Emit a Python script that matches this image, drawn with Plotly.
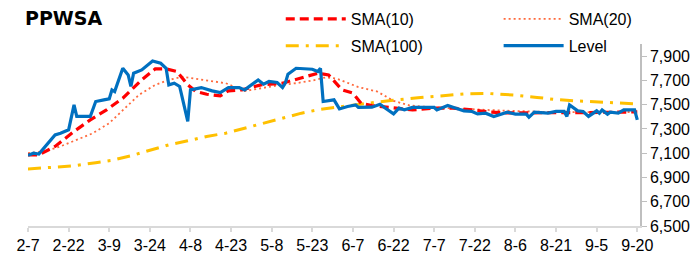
import plotly.graph_objects as go

YEAR = 2019

level_md = ["02-07","02-09","02-11","02-14","02-17","02-19","02-22","02-24","02-25",
            "03-02","03-04","03-07","03-09","03-10","03-11","03-14","03-16","03-17","03-18","03-21","03-25","03-28","03-30","03-31",
            "04-02","04-04","04-05","04-07","04-08","04-12","04-16","04-19","04-22","04-26","04-28",
            "05-03","05-05","05-07","05-10","05-12","05-13","05-14","05-17","05-23","05-25","05-26","05-27","05-31",
            "06-02","06-05","06-08","06-09","06-14","06-17","06-19","06-22","06-24","06-26","06-29",
            "07-07","07-08","07-12","07-15","07-18","07-21","07-23","07-26","07-28","07-29",
            "08-03","08-06","08-10","08-11","08-13","08-18","08-21","08-24","08-25","08-26","08-29","08-31",
            "09-02","09-05","09-06","09-07","09-09","09-10","09-13","09-15","09-19","09-20"]
level_val = [7082,7100,7093,7169,7251,7265,7293,7498,7403,
             7403,7526,7540,7548,7622,7608,7800,7745,7650,7759,7786,7860,7841,7800,7663,
             7677,7650,7553,7362,7622,7641,7614,7600,7641,7641,7622,
             7704,7669,7691,7683,7641,7677,7751,7800,7792,7773,7800,7526,7540,
             7465,7485,7498,7477,7479,7504,7471,7424,7471,7457,7477,
             7477,7457,7493,7471,7449,7444,7424,7430,7416,7403,
             7438,7422,7422,7397,7438,7430,7444,7444,7403,7498,7449,7444,
             7403,7449,7430,7457,7422,7438,7430,7457,7457,7375]

sma10_md = ["02-07","02-11","02-17","02-24","03-02","03-08","03-14","03-18","03-21","03-26","03-30",
            "04-03","04-07","04-10","04-14","04-19","04-22","04-27","05-04","05-12","05-18","05-25","05-29",
            "06-03","06-07","06-10","06-14","06-22","06-29","07-07","07-14","07-21","07-28",
            "08-03","08-18","09-02","09-20"]
sma10_val = [7087,7087,7156,7279,7375,7457,7553,7636,7704,7795,7795,
             7773,7663,7608,7586,7572,7614,7622,7663,7677,7718,7759,7745,
             7622,7595,7512,7493,7471,7457,7471,7471,7457,7438,
             7432,7432,7435,7440]

sma20_md = ["02-07","02-13","02-19","02-25","03-03","03-09","03-15","03-20","03-26","03-31",
            "04-05","04-10","04-16","04-21","04-28","05-04","05-10","05-17","05-23","05-28",
            "06-01","06-09","06-16","06-22","06-28","07-07","07-16","07-26","08-03","08-18","09-02","09-20"]
sma20_val = [7100,7115,7156,7210,7265,7348,7471,7581,7663,7704,
             7730,7712,7691,7677,7612,7636,7658,7677,7699,7725,
             7715,7645,7608,7531,7493,7477,7465,7457,7450,7440,7438,7440]

sma100_md = ["02-07","02-17","02-24","03-04","03-10","03-17","03-24","03-31","04-07","04-14","04-21","04-28",
             "05-05","05-12","05-19","05-26","06-01","06-10","06-21","07-01","07-10","07-19","07-27",
             "08-06","08-14","08-21","08-28","09-04","09-12","09-20"]
sma100_val = [6970,6983,6996,7022,7041,7079,7123,7169,7202,7238,7265,7307,
              7348,7389,7430,7462,7480,7504,7535,7557,7575,7590,7592,
              7578,7560,7542,7532,7524,7516,7506]

tick_md = ["02-07","02-22","03-09","03-24","04-08","04-23","05-08","05-23",
           "06-07","06-22","07-07","07-22","08-06","08-21","09-05","09-20"]
tick_labels = ["2-7","2-22","3-9","3-24","4-8","4-23","5-8","5-23",
               "6-7","6-22","7-7","7-22","8-6","8-21","9-5","9-20"]
y_ticks = [6500, 6700, 6900, 7100, 7300, 7500, 7700, 7900]
y_labels = ["6,500", "6,700", "6,900", "7,100", "7,300", "7,500", "7,700", "7,900"]

def d(mds):
    return [f"{YEAR}-{m}" for m in mds]

FONT = "Liberation Sans, Arial, sans-serif"

fig = go.Figure()
fig.add_trace(go.Scatter(x=d(sma100_md), y=sma100_val, mode="lines", name="SMA(100)",
                         line=dict(color="#FFC000", width=3, dash="13px,7px,3px,7px"),
                         legend="legend", legendrank=2, legendgroup="c"))
fig.add_trace(go.Scatter(x=d(sma20_md), y=sma20_val, mode="lines", name="SMA(20)",
                         line=dict(color="#FF6A3D", width=1.8, dash="2px,3px"),
                         legend="legend2", legendrank=1, legendgroup="b"))
fig.add_trace(go.Scatter(x=d(sma10_md), y=sma10_val, mode="lines", name="SMA(10)",
                         line=dict(color="#FF0000", width=3.2, dash="9px,5px"),
                         legend="legend", legendrank=1, legendgroup="a"))
fig.add_trace(go.Scatter(x=d(level_md), y=level_val, mode="lines", name="Level",
                         line=dict(color="#0070C0", width=3.2),
                         legend="legend2", legendrank=2, legendgroup="d"))

fig.update_layout(
    width=699, height=253,
    margin=dict(l=20, r=67, t=36, b=35, autoexpand=False),
    paper_bgcolor="white", plot_bgcolor="white",
    font=dict(family=FONT, size=16, color="#000000"),
    showlegend=True,
    legend=dict(x=0.413, y=1.231, xanchor="left", yanchor="top", orientation="v",
                bgcolor="rgba(0,0,0,0)", font=dict(size=16), tracegroupgap=3, itemwidth=60),
    legend2=dict(x=0.769, y=1.231, xanchor="left", yanchor="top", orientation="v",
                 bgcolor="rgba(0,0,0,0)", font=dict(size=16), tracegroupgap=3, itemwidth=60),
    xaxis=dict(type="date", range=[f"{YEAR}-02-07", f"{YEAR}-09-21"],
               tickmode="array", tickvals=d(tick_md), ticktext=tick_labels,
               showgrid=False, zeroline=False, showline=True, linecolor="#D9D9D9", linewidth=2,
               ticks="outside", ticklen=4, tickwidth=2, tickcolor="#D9D9D9",
               tickfont=dict(size=16, color="#000000")),
    xaxis2=dict(type="date", overlaying="x", matches="x", anchor="y", side="bottom",
                tickmode="array", tickvals=d(tick_md), showticklabels=False,
                showgrid=False, zeroline=False, showline=False,
                ticks="inside", ticklen=4, tickwidth=2, tickcolor="#D9D9D9"),
    yaxis=dict(range=[6500, 8000], side="right", tickmode="array", tickvals=y_ticks, ticktext=y_labels,
               showgrid=False, zeroline=False, showline=True, linecolor="#BFBFBF", linewidth=1.5,
               ticks="outside", ticklen=5, tickwidth=1, tickcolor="#BFBFBF",
               tickfont=dict(size=16, color="#000000")),
    annotations=[dict(text="<b>PPWSA</b>", xref="paper", yref="paper", x=-0.008, y=1.142,
                      xanchor="left", yanchor="middle", showarrow=False,
                      font=dict(family="DejaVu Sans, sans-serif", size=19, color="#000000"))],
)

fig.write_html("out.html")
